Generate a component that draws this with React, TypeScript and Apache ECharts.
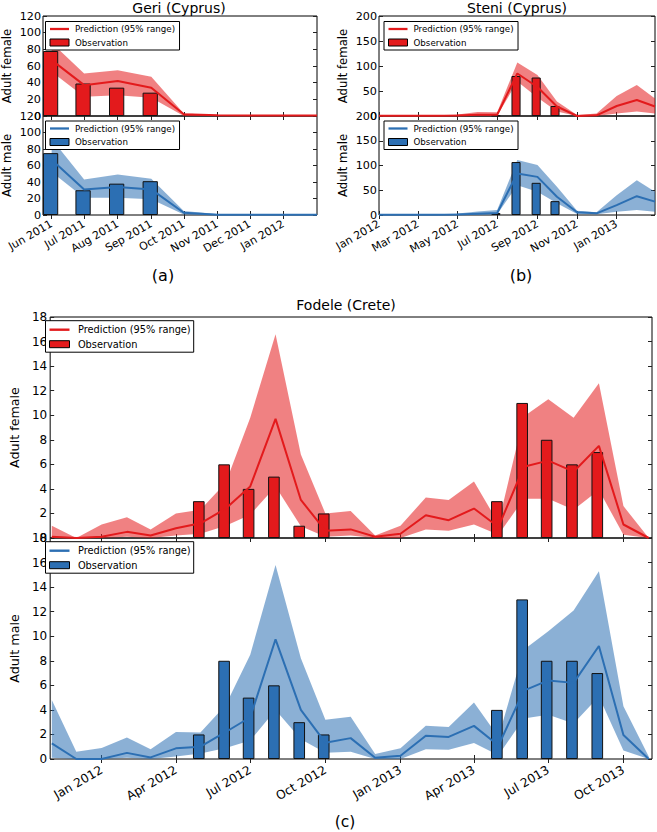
import React, { useEffect, useRef } from 'react';
import * as echarts from 'echarts';

const FONT = '"DejaVu Sans", "Bitstream Vera Sans", sans-serif';
const RED = '#e31a1c';
const BLUE = '#2c6fb3';
const RED_BAND = 'rgba(227,26,28,0.55)';
const BLUE_BAND = 'rgba(44,111,179,0.55)';

// ---------- (a) Geri (Cyprus) ----------
const GERI_TICKS = ['Jun 2011', 'Jul 2011', 'Aug 2011', 'Sep 2011', 'Oct 2011', 'Nov 2011', 'Dec 2011', 'Jan 2012'];
const GERI_RANGE = ['2011-05-24', '2012-02-01'];
const GERI_DATES = ['2011-06-01', '2011-07-01', '2011-08-01', '2011-09-01', '2011-10-01', '2011-11-01', '2011-12-01', '2012-01-01', '2012-02-01'];
const GERI_F_MEAN = [67, 37, 42, 34, 2, 0.8, 0.5, 0.5, 0.5];
const GERI_F_UP = [88, 51, 55, 47, 3, 1.2, 1, 1, 1];
const GERI_F_LO = [53, 23, 25, 22, 0, 0, 0, 0, 0];
const GERI_M_MEAN = [67, 31, 34, 31, 2.8, 0.3, 0.2, 0.2, 0.2];
const GERI_M_UP = [92, 43, 49, 44, 5, 1.2, 0.5, 0.5, 0.5];
const GERI_M_LO = [52, 21, 21, 19, 0.5, 0, 0, 0, 0];
const GERI_OBS_DATES = ['2011-05-31', '2011-06-30', '2011-07-31', '2011-08-31'];
const GERI_F_OBS = [78, 39, 34, 28];
const GERI_M_OBS = [75, 30, 38, 41];

// ---------- (b) Steni (Cyprus) ----------
const STENI_TICKS = ['Jan 2012', 'Mar 2012', 'May 2012', 'Jul 2012', 'Sep 2012', 'Nov 2012', 'Jan 2013'];
const STENI_RANGE = ['2012-01-01', '2013-03-01'];
const STENI_DATES = ['2012-01-01', '2012-02-01', '2012-03-01', '2012-04-01', '2012-05-01', '2012-06-01', '2012-07-01', '2012-08-01', '2012-09-01', '2012-10-01', '2012-11-01', '2012-12-01', '2013-01-01', '2013-02-01', '2013-03-01'];
const STENI_F_MEAN = [0.5, 0.5, 0.5, 0.5, 1, 2.5, 2.5, 85, 58, 19, 0, 1.3, 20, 32, 19];
const STENI_F_UP = [1, 1, 1, 1.5, 3, 8, 7.5, 107, 82, 29, 2, 5, 40, 62, 35];
const STENI_F_LO = [0, 0, 0, 0, 0, 0.3, 0.5, 69, 37, 9, 0, 0, 5, 9, 5];
const STENI_M_MEAN = [0.5, 0.5, 0.5, 0.5, 1, 2.5, 4, 84, 77, 37, 5.4, 3.4, 20, 38, 27];
const STENI_M_UP = [1, 1, 1, 1.5, 3, 7, 10, 111, 101, 57, 8.7, 5.4, 40, 70, 47];
const STENI_M_LO = [0, 0, 0, 0, 0, 0.5, 1.5, 60, 47, 23.5, 2, 1.3, 6.7, 10, 6.7];
const STENI_OBS_DATES = ['2012-06-29', '2012-07-30', '2012-08-30', '2012-09-28'];
const STENI_F_OBS = [1, 80, 77, 20];
const STENI_M_OBS = [4, 107, 65, 28];

// ---------- (c) Fodele (Crete) ----------
const FODELE_TICKS = ['Jan 2012', 'Apr 2012', 'Jul 2012', 'Oct 2012', 'Jan 2013', 'Apr 2013', 'Jul 2013', 'Oct 2013'];
const FODELE_RANGE = ['2011-10-30', '2013-11-05'];
const FODELE_DATES = ['2011-11-01', '2011-12-01', '2012-01-01', '2012-02-01', '2012-03-01', '2012-04-01', '2012-05-01', '2012-06-01', '2012-07-01', '2012-08-01', '2012-09-01', '2012-10-01', '2012-11-01', '2012-12-01', '2013-01-01', '2013-02-01', '2013-03-01', '2013-04-01', '2013-05-01', '2013-06-01', '2013-07-01', '2013-08-01', '2013-09-01', '2013-10-01', '2013-11-01'];
const FODELE_F_MEAN = [0.1, 0, 0.1, 0.5, 0.2, 0.8, 1.2, 2.4, 4.2, 9.7, 3.1, 0.6, 0.7, 0.1, 0.35, 1.85, 1.45, 2.4, 0.9, 5.8, 6.3, 5.4, 7.5, 1.1, 0];
const FODELE_F_UP = [1.0, 0, 1.1, 1.7, 0.7, 2.0, 2.3, 4.5, 9.8, 16.6, 6.8, 2.0, 2.2, 0.2, 1.0, 3.3, 3.1, 4.6, 1.2, 9.9, 11.3, 9.8, 12.6, 2.6, 0];
const FODELE_F_LO = [0, 0, 0, 0.1, 0, 0.2, 0.35, 1.0, 1.9, 4.2, 0.95, 0.1, 0.2, 0, 0, 0.7, 0.6, 1.1, 0.27, 3.2, 3.2, 2.3, 3.9, 0.27, 0];
const FODELE_M_MEAN = [1.28, 0, 0, 0.5, 0.13, 0.87, 1.0, 2.2, 3.4, 9.75, 4.0, 1.33, 1.7, 0.1, 0.27, 1.9, 1.8, 2.7, 1.1, 5.57, 6.4, 6.2, 9.2, 1.95, 0];
const FODELE_M_UP = [4.8, 0.6, 0.9, 1.75, 0.8, 2.2, 2.15, 4.4, 8.5, 15.8, 8.2, 3.2, 3.45, 0.4, 0.87, 2.7, 2.6, 4.6, 1.8, 8.9, 10.4, 12.1, 15.3, 4.3, 0.2];
const FODELE_M_LO = [0.1, 0, 0, 0.1, 0, 0.2, 0.45, 0.9, 1.5, 4.0, 1.6, 0.5, 0.6, 0, 0, 0.8, 0.75, 1.3, 0.3, 3.3, 3.6, 2.9, 5.1, 0.7, 0];
const FODELE_OBS_DATES = ['2012-04-29', '2012-05-30', '2012-06-29', '2012-07-30', '2012-08-30', '2012-09-29', '2013-04-29', '2013-05-30', '2013-06-29', '2013-07-30', '2013-08-30'];
const FODELE_F_OBS = [3, 6, 4, 5, 1, 2, 3, 11, 8, 6, 7];
const FODELE_M_OBS = [2, 8, 5, 6, 3, 2, 4, 13, 8, 8, 7];

const PRED_LABEL = 'Prediction (95% range)';
const OBS_LABEL = 'Observation';

const MONTHS = ['Jan', 'Feb', 'Mar', 'Apr', 'May', 'Jun', 'Jul', 'Aug', 'Sep', 'Oct', 'Nov', 'Dec'];
const DAY = 86400000;
const ts = (s: string) => {
  const [y, m, d] = s.split('-').map(Number);
  return Date.UTC(y, m - 1, d);
};
const tickTs = (label: string) => {
  const [mon, yr] = label.split(' ');
  return Date.UTC(Number(yr), MONTHS.indexOf(mon), 1);
};

type Panel = {
  key: string;
  grid: { left: number; top: number; width: number; height: number };
  range: string[];
  yMax: number;
  yInterval: number;
  ticks: string[];
  showX: boolean;
  dates: string[];
  mean: number[];
  upper: number[];
  lower: number[];
  obsDates: string[];
  obs: number[];
  color: string;
  band: string;
  yName: string;
  big: boolean;
  legendPos: { left: number; top: number };
};

const panels: Panel[] = [
  { key: 'geriF', grid: { left: 41, top: 16, width: 276, height: 100 }, range: GERI_RANGE, yMax: 120, yInterval: 20, ticks: GERI_TICKS, showX: false, dates: GERI_DATES, mean: GERI_F_MEAN, upper: GERI_F_UP, lower: GERI_F_LO, obsDates: GERI_OBS_DATES, obs: GERI_F_OBS, color: RED, band: RED_BAND, yName: 'Adult female', big: false, legendPos: { left: 45.5, top: 21.5 } },
  { key: 'geriM', grid: { left: 41, top: 116, width: 276, height: 99 }, range: GERI_RANGE, yMax: 120, yInterval: 20, ticks: GERI_TICKS, showX: true, dates: GERI_DATES, mean: GERI_M_MEAN, upper: GERI_M_UP, lower: GERI_M_LO, obsDates: GERI_OBS_DATES, obs: GERI_M_OBS, color: BLUE, band: BLUE_BAND, yName: 'Adult male', big: false, legendPos: { left: 45.5, top: 121 } },
  { key: 'steniF', grid: { left: 379, top: 16, width: 276, height: 100 }, range: STENI_RANGE, yMax: 200, yInterval: 50, ticks: STENI_TICKS, showX: false, dates: STENI_DATES, mean: STENI_F_MEAN, upper: STENI_F_UP, lower: STENI_F_LO, obsDates: STENI_OBS_DATES, obs: STENI_F_OBS, color: RED, band: RED_BAND, yName: 'Adult female', big: false, legendPos: { left: 384, top: 21.5 } },
  { key: 'steniM', grid: { left: 379, top: 116, width: 276, height: 99 }, range: STENI_RANGE, yMax: 200, yInterval: 50, ticks: STENI_TICKS, showX: true, dates: STENI_DATES, mean: STENI_M_MEAN, upper: STENI_M_UP, lower: STENI_M_LO, obsDates: STENI_OBS_DATES, obs: STENI_M_OBS, color: BLUE, band: BLUE_BAND, yName: 'Adult male', big: false, legendPos: { left: 384, top: 121 } },
  { key: 'fodeleF', grid: { left: 40, top: 317, width: 612, height: 221 }, range: FODELE_RANGE, yMax: 18, yInterval: 2, ticks: FODELE_TICKS, showX: false, dates: FODELE_DATES, mean: FODELE_F_MEAN, upper: FODELE_F_UP, lower: FODELE_F_LO, obsDates: FODELE_OBS_DATES, obs: FODELE_F_OBS, color: RED, band: RED_BAND, yName: 'Adult female', big: true, legendPos: { left: 45.5, top: 320.7 } },
  { key: 'fodeleM', grid: { left: 40, top: 538, width: 612, height: 221 }, range: FODELE_RANGE, yMax: 18, yInterval: 2, ticks: FODELE_TICKS, showX: true, dates: FODELE_DATES, mean: FODELE_M_MEAN, upper: FODELE_M_UP, lower: FODELE_M_LO, obsDates: FODELE_OBS_DATES, obs: FODELE_M_OBS, color: BLUE, band: BLUE_BAND, yName: 'Adult male', big: true, legendPos: { left: 45.5, top: 541.7 } },
];

function buildOption() {
  const grid: any[] = [];
  const xAxis: any[] = [];
  const yAxis: any[] = [];
  const series: any[] = [];
  const legend: any[] = [];

  panels.forEach((p, i) => {
    const xMin = ts(p.range[0]);
    const xMax = ts(p.range[1]);
    const tickVals = p.ticks.map(tickTs);
    const labelMap = new Map<number, string>();
    p.ticks.forEach((t, k) => labelMap.set(tickVals[k], t));
    const yLabelSize = p.big ? 12 : 11.2;
    const xLabelSize = p.big ? 12.2 : 11;
    const nameSize = p.big ? 12.7 : 11.7;
    const legendSize = p.big ? 9.8 : 8.7;
    const tickStyle = { inside: true, length: 4, lineStyle: { color: '#222', width: 1 } };

    grid.push({ ...p.grid, show: true, borderColor: '#000', borderWidth: 1, backgroundColor: 'transparent', containLabel: false });

    const xBase = {
      type: 'value',
      gridIndex: i,
      min: xMin,
      max: xMax,
      axisLine: { show: false },
      splitLine: { show: false },
    };
    xAxis.push({
      ...xBase,
      position: 'bottom',
      axisTick: { ...tickStyle, customValues: tickVals },
      axisLabel: {
        show: p.showX,
        customValues: tickVals,
        formatter: (v: number) => labelMap.get(v) ?? '',
        rotate: 30,
        margin: p.big ? 10 : 8,
        fontFamily: FONT,
        fontSize: xLabelSize,
        color: '#000',
      },
    });
    xAxis.push({
      ...xBase,
      position: 'top',
      axisTick: { ...tickStyle, customValues: tickVals },
      axisLabel: { show: false, customValues: tickVals },
    });

    const yBase = {
      type: 'value',
      gridIndex: i,
      min: 0,
      max: p.yMax,
      interval: p.yInterval,
      axisLine: { show: false },
      splitLine: { show: false },
      axisTick: tickStyle,
    };
    yAxis.push({
      ...yBase,
      position: 'left',
      axisLabel: {
        show: true,
        showMinLabel: true,
        showMaxLabel: true,
        margin: p.big ? 3 : 2,
        fontFamily: FONT,
        fontSize: yLabelSize,
        color: '#000',
      },
      name: p.yName,
      nameLocation: 'middle',
      nameGap: p.big ? 23 : 30,
      nameTextStyle: { fontFamily: FONT, fontSize: nameSize, color: '#000' },
    });
    yAxis.push({ ...yBase, position: 'right', axisLabel: { show: false } });

    const tx = p.dates.map(ts);
    const predName = `${p.key} prediction`;
    const obsName = `${p.key} observation`;
    const barPx = (14 * DAY * p.grid.width) / (xMax - xMin);

    series.push({
      type: 'custom',
      name: `${p.key} band`,
      xAxisIndex: 2 * i,
      yAxisIndex: 2 * i,
      z: 1,
      clip: true,
      silent: true,
      encode: { x: 0, y: 1 },
      data: [[tx[0], p.upper[0]]],
      renderItem: (params: any, api: any) => {
        if (params.dataIndex !== 0) return null;
        const pts: number[][] = [];
        for (let k = 0; k < tx.length; k++) pts.push(api.coord([tx[k], p.upper[k]]));
        for (let k = tx.length - 1; k >= 0; k--) pts.push(api.coord([tx[k], p.lower[k]]));
        return { type: 'polygon', shape: { points: pts }, style: { fill: p.band } };
      },
    });
    series.push({
      type: 'bar',
      name: obsName,
      xAxisIndex: 2 * i,
      yAxisIndex: 2 * i,
      z: 3,
      barWidth: barPx,
      color: p.color,
      itemStyle: { color: p.color, borderColor: '#111', borderWidth: 1 },
      data: p.obsDates.map((d, k) => [ts(d), p.obs[k]]),
    });
    series.push({
      type: 'line',
      name: predName,
      xAxisIndex: 2 * i,
      yAxisIndex: 2 * i,
      z: 4,
      clip: true,
      symbol: 'none',
      showSymbol: false,
      color: p.color,
      itemStyle: { color: p.color },
      lineStyle: { color: p.color, width: 2 },
      data: tx.map((t, k) => [t, p.mean[k]]),
    });

    legend.push({
      left: p.legendPos.left,
      top: p.legendPos.top,
      orient: 'vertical',
      z: 10,
      selectedMode: false,
      backgroundColor: '#fff',
      borderColor: '#000',
      borderWidth: 1,
      borderRadius: 0,
      padding: p.big ? [4, 3, 3, 3.5] : [3, 4.5, 3, 4],
      itemGap: p.big ? 4.5 : 4.5,
      itemWidth: p.big ? 20 : 19,
      itemHeight: 7,
      textStyle: { fontFamily: FONT, fontSize: legendSize, color: '#000', padding: [0, 0, 0, p.big ? 3.4 : 1] },
      formatter: (n: string) => (n.endsWith('prediction') ? PRED_LABEL : OBS_LABEL),
      data: [
        { name: predName, icon: 'path://M0,0H20V2.4H0Z', itemStyle: { color: p.color } },
        { name: obsName, icon: 'rect', itemStyle: { color: p.color, borderColor: '#000', borderWidth: 1 } },
      ],
    });
  });

  const text = (t: string, x: number, y: number, size: number) => ({
    type: 'text',
    x,
    y,
    style: { text: t, fontFamily: FONT, fontSize: size, fill: '#000', textAlign: 'center', textVerticalAlign: 'middle' },
  });

  return {
    animation: false,
    backgroundColor: '#fff',
    grid,
    xAxis,
    yAxis,
    series,
    legend,
    graphic: [
      text('Geri (Cyprus)', 179, 8, 14),
      text('Steni (Cyprus)', 517, 8, 14),
      text('Fodele (Crete)', 346, 305, 14),
      text('(a)', 163, 275, 16),
      text('(b)', 521, 275, 16),
      text('(c)', 345, 822, 15.5),
    ],
  };
}

export default function App() {
  const ref = useRef<HTMLDivElement>(null);
  useEffect(() => {
    if (!ref.current) return;
    const chart = echarts.init(ref.current, null, { renderer: 'svg' });
    chart.setOption(buildOption() as any);
    return () => chart.dispose();
  }, []);
  return (
    <div
      ref={ref}
      style={{ position: 'absolute', left: 0, top: 0, width: 657, height: 832, background: '#fff' }}
    />
  );
}
